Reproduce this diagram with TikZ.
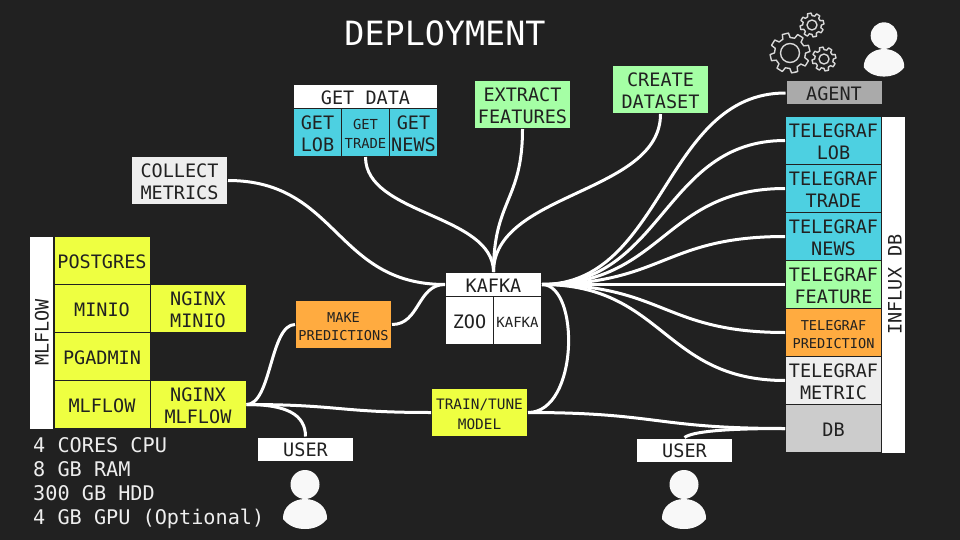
\documentclass[tikz,border=0pt]{standalone}
\usepackage{fontspec}
\setmainfont{DejaVu Sans Mono}
\usetikzlibrary{calc}
\definecolor{bg}{HTML}{212121}
\definecolor{ccyan}{HTML}{4DD0E1}
\definecolor{cgreen}{HTML}{A5FFA5}
\definecolor{cyel}{HTML}{EEFF41}
\definecolor{corg}{HTML}{FFAB40}
\definecolor{clt}{HTML}{EEEEEE}
\definecolor{cmid}{HTML}{CCCCCC}
\definecolor{cdk}{HTML}{AAAAAA}
\tikzset{
  x=1pt,y=-1pt,
  cell/.style={draw=bg,line width=1pt,inner sep=0pt,minimum width=96pt,minimum height=48pt,text=bg,font=\fontsize{18.5}{22.5}\selectfont},
  narrow/.style={minimum width=48pt},
  hdr/.style={minimum height=24pt,fill=white},
  smalltxt/.style={font=\fontsize{13.6}{18}\selectfont},
  sidebar/.style={draw=bg,line width=1pt,fill=white,inner sep=0pt,text=bg,font=\fontsize{18.5}{24}\selectfont},
  wire/.style={draw=white,line width=3pt},
  gearline/.style={draw=clt!90!bg,line width=1.4pt,line join=round},
  personfill/.style={fill=white!97!bg,draw=none},
}
\newcommand{\ctext}[1]{\setbox2=\hbox{\begin{tabular}{@{}c@{}}#1\end{tabular}}\setbox0=\hbox{H}\raisebox{\dimexpr(\dp2-\ht2)/2-0.5\ht0+0.2\baselineskip-5.4pt\relax}[0pt][0pt]{\box2}}
\newcommand{\gearshape}[6]{% x y outer inner hole rot
  \draw[gearline] (#1,#2) ++(#6:#3) \foreach \a in {0,45,...,315} {
     -- ($(#1,#2)+(#6+\a-9:#3)$) -- ($(#1,#2)+(#6+\a+9:#3)$) -- ($(#1,#2)+(#6+\a+14:#4)$) -- ($(#1,#2)+(#6+\a+31:#4)$) -- ($(#1,#2)+(#6+\a+36:#3)$)
  } -- cycle;
  \draw[gearline] (#1,#2) circle[radius=#5];
}
\newcommand{\personshape}[3]{% x y scale
  \begin{scope}[shift={(#1,#2)},scale=#3]
    \fill[personfill] (0,-14.5) circle[radius=14.5];
    \fill[personfill] (-22,20) .. controls (-22.5,8) and (-12,0) .. (0,0) .. controls (12,0) and (22.5,8) .. (22,20) .. controls (16,27.5) and (8,30) .. (0,30) .. controls (-8,30) and (-16,27.5) .. (-22,20) -- cycle;
  \end{scope}
}
\begin{document}
\begin{tikzpicture}
\fill[bg] (0,0) rectangle (960,540);
\useasboundingbox (0,0) rectangle (960,540);

\node[text=white,font=\fontsize{33.4}{36}\selectfont] (title) at (445,33) {DEPLOYMENT};

% MLflow group
\node[sidebar,minimum width=24pt,minimum height=193pt] (mlbar) at (41.5,332.5) {};
\node[sidebar,rotate=90,draw=none,fill=none] (mllabel) at (42,332.5) {MLFLOW};
\node[cell,fill=cyel] (postgres) at (102,260.5) {\ctext{POSTGRES}};
\node[cell,fill=cyel] (minio) at (102,308.5) {\ctext{MINIO}};
\node[cell,fill=cyel] (nginxminio) at (198,308.5) {\ctext{NGINX\\MINIO}};
\node[cell,fill=cyel] (pgadmin) at (102,356.5) {\ctext{PGADMIN}};
\node[cell,fill=cyel] (mlflow) at (102,404.5) {\ctext{MLFLOW}};
\node[cell,fill=cyel] (nginxml) at (198,404.5) {\ctext{NGINX\\MLFLOW}};
\node[anchor=north west,inner sep=0pt,align=left,text=clt,font=\fontsize{20.2}{24}\selectfont] (specs) at (33,437) {4 CORES CPU\\8 GB RAM\\300 GB HDD\\4 GB GPU (Optional)};

% Data sources
\node[cell,hdr,minimum width=144pt] (getdata) at (365.5,96.5) {\ctext{GET DATA}};
\node[cell,narrow,fill=ccyan] (getlob) at (317.5,132.5) {\ctext{GET\\LOB}};
\node[cell,narrow,fill=ccyan,font=\fontsize{13.8}{19}\selectfont] (gettrade) at (365.5,132.5) {\ctext{GET\\TRADE}};
\node[cell,narrow,fill=ccyan] (getnews) at (413.5,132.5) {\ctext{GET\\NEWS}};
\node[cell,fill=cgreen] (extract) at (522.5,104.5) {\ctext{EXTRACT\\FEATURES}};
\node[cell,fill=cgreen] (create) at (660.5,89.5) {\ctext{CREATE\\DATASET}};
\node[cell,fill=clt] (collect) at (179.5,180.5) {\ctext{COLLECT\\METRICS}};

% Kafka
\node[cell,hdr,fill=white] (kafka) at (493.5,284.5) {\ctext{KAFKA}};
\node[cell,narrow,fill=white] (zoo) at (469.5,320.5) {\ctext{ZOO}};
\node[cell,narrow,fill=white,font=\fontsize{14}{18}\selectfont] (kafkab) at (517.5,320.5) {\ctext{KAFKA}};
\node[cell,fill=corg,smalltxt] (make) at (343.5,324.5) {\ctext{MAKE\\PREDICTIONS}};
\node[cell,fill=cyel,font=\fontsize{14.4}{19.5}\selectfont] (train) at (479.5,412.5) {\ctext{TRAIN/TUNE\\MODEL}};

% Users
\node[cell,hdr,fill=white] (userl) at (305.5,449) {\ctext{USER}};
\node[cell,hdr,fill=white] (userr) at (684.5,450) {\ctext{USER}};

% Right column
\node[cell,minimum height=24pt,fill=cdk] (agent) at (834,93) {\ctext{AGENT}};
\node[cell,fill=ccyan] (tlob) at (833.5,140.5) {\ctext{TELEGRAF\\LOB}};
\node[cell,fill=ccyan] (ttrade) at (833.5,188.5) {\ctext{TELEGRAF\\TRADE}};
\node[cell,fill=ccyan] (tnews) at (833.5,236.5) {\ctext{TELEGRAF\\NEWS}};
\node[cell,fill=cgreen] (tfeat) at (833.5,284.5) {\ctext{TELEGRAF\\FEATURE}};
\node[cell,fill=corg,smalltxt] (tpred) at (833.5,332.5) {\ctext{TELEGRAF\\PREDICTION}};
\node[cell,fill=clt] (tmetric) at (833.5,380.5) {\ctext{TELEGRAF\\METRIC}};
\node[cell,fill=cmid] (db) at (833.5,428.5) {\ctext{DB}};
\node[sidebar,minimum width=24pt,minimum height=337pt] (influx) at (893.5,285) {};
\node[sidebar,rotate=90,draw=none,fill=none] (influxlabel) at (895,284.5) {INFLUX DB};

% Connectors
\draw[wire] (kafka.east) .. controls +(122,0) and +(-122,0) .. (agent.west);
\draw[wire] (kafka.east) .. controls +(122,0) and +(-122,0) .. (tlob.west);
\draw[wire] (kafka.east) .. controls +(122,0) and +(-122,0) .. (ttrade.west);
\draw[wire] (kafka.east) .. controls +(122,0) and +(-122,0) .. (tnews.west);
\draw[wire] (kafka.east) -- (tfeat.west);
\draw[wire] (kafka.east) .. controls +(122,0) and +(-122,0) .. (tpred.west);
\draw[wire] (kafka.east) .. controls +(122,0) and +(-122,0) .. (tmetric.west);
\draw[wire] (kafka.east) .. controls +(38,0) and +(51,0) .. (train.east);
\draw[wire] (train.east) .. controls +(130,0) and +(-130,0) .. (db.west);
\draw[wire] (userr.north) .. controls +(8,-6) and +(-60,0) .. (db.west);
\draw[wire] (collect.east) .. controls +(110,0) and +(-110,0) .. (kafka.west);
\draw[wire] (make.east) .. controls +(28,0) and +(-28,0) .. (kafka.west);
\draw[wire] (gettrade.south) .. controls +(0,58) and +(0,-58) .. (kafka.north);
\draw[wire] (extract.south) .. controls +(0,72) and +(0,-72) .. (kafka.north);
\draw[wire] (create.south) .. controls +(0,80) and +(0,-80) .. (kafka.north);
\draw[wire] (nginxml.east) .. controls +(25,0) and +(-25,0) .. (make.west);
\draw[wire] (nginxml.east) .. controls +(93,0) and +(-93,0) .. (train.west);
\draw[wire] (nginxml.east) .. controls +(40,0) and +(0,-22) .. (userl.north);

% Icons
\gearshape{790}{53}{20}{15.5}{9.5}{90-13.5}
\gearshape{812}{25}{12}{9.3}{5}{90-13.5}
\gearshape{824}{59}{12}{9.3}{5}{90-13.5}
\personshape{884}{49}{0.92}
\personshape{305}{499}{1}
\personshape{684}{499}{1}
\end{tikzpicture}
\end{document}
